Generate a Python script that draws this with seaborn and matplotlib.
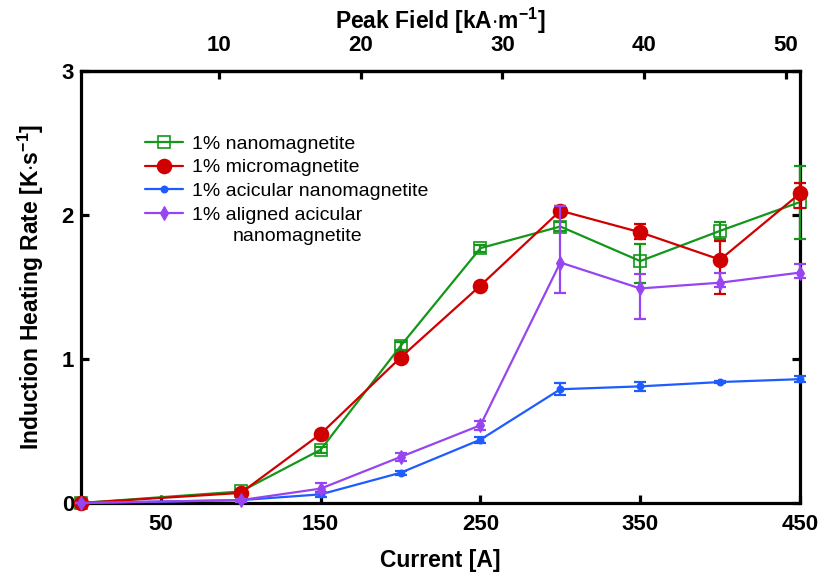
import matplotlib
matplotlib.use("Agg")
import matplotlib.pyplot as plt
import numpy as np
import pandas as pd
import seaborn as sns
from matplotlib.lines import Line2D

# Coil current [A] and measured heating rates [K/s]
current = [0, 100, 150, 200, 250, 300, 350, 400, 450]

nano = [0.0, 0.08, 0.37, 1.09, 1.77, 1.92, 1.68, 1.89, 2.09]
nano_lo = [0.0, 0.01, 0.02, 0.03, 0.025, 0.03, 0.15, 0.06, 0.26]
nano_hi = [0.0, 0.01, 0.02, 0.03, 0.025, 0.03, 0.12, 0.06, 0.25]

micro = [0.0, 0.07, 0.48, 1.01, 1.51, 2.03, 1.88, 1.69, 2.15]
micro_lo = [0.0, 0.01, 0.02, 0.02, 0.02, 0.03, 0.05, 0.24, 0.10]
micro_hi = [0.0, 0.01, 0.02, 0.02, 0.02, 0.03, 0.06, 0.13, 0.07]

acic = [0.0, 0.02, 0.06, 0.21, 0.44, 0.79, 0.81, 0.84, 0.86]
acic_lo = [0.0, 0.005, 0.015, 0.015, 0.02, 0.04, 0.03, 0.01, 0.02]
acic_hi = [0.0, 0.005, 0.015, 0.015, 0.02, 0.04, 0.03, 0.01, 0.02]

aligned = [0.0, 0.02, 0.10, 0.32, 0.54, 1.67, 1.49, 1.53, 1.60]
aligned_lo = [0.0, 0.01, 0.03, 0.03, 0.03, 0.21, 0.21, 0.03, 0.035]
aligned_hi = [0.0, 0.01, 0.04, 0.03, 0.03, 0.39, 0.10, 0.07, 0.06]

labels = ["1% nanomagnetite", "1% micromagnetite",
          "1% acicular nanomagnetite", "1% aligned acicular"]
label_cont = "nanomagnetite"

# Peak field [kA/m] as a linear function of coil current
FIELD_PER_AMP = 0.11274
FIELD_OFFSET = 0.26

sns.set_theme(style="ticks")
plt.rcParams["font.family"] = ["Liberation Sans", "DejaVu Sans"]
plt.rcParams["mathtext.fontset"] = "custom"
plt.rcParams["mathtext.rm"] = "Liberation Sans:bold"
plt.rcParams["mathtext.bf"] = "Liberation Sans:bold"
plt.rcParams["mathtext.default"] = "rm"
for key in ["text.color", "axes.labelcolor", "xtick.color", "ytick.color",
            "axes.edgecolor", "xtick.labelcolor", "ytick.labelcolor"]:
    plt.rcParams[key] = "black"

fig = plt.figure(figsize=(8.18, 5.79), dpi=100)
ax = fig.add_axes([81 / 818, 76 / 579, 719 / 818, 432 / 579])

series = [
    (nano, nano_lo, nano_hi, "#14961a", "s", 9, "none"),
    (micro, micro_lo, micro_hi, "#d10000", "o", 10, None),
    (acic, acic_lo, acic_hi, "#1f5cff", "o", 4.5, None),
    (aligned, aligned_lo, aligned_hi, "#9645f0", "d", 7, None),
]

frames = []
for lab, (vals, *_rest) in zip(labels, series):
    frames.append(pd.DataFrame({"current": current, "rate": vals, "sample": lab}))
df = pd.concat(frames, ignore_index=True)

handles = []
for i, (lab, (vals, lo, hi, col, mk, ms, mfc)) in enumerate(zip(labels, series)):
    sub = df[df["sample"] == lab]
    sns.lineplot(data=sub, x="current", y="rate", ax=ax, color=col, lw=1.6,
                 zorder=3 + i, legend=False, clip_on=False)
    ax.errorbar(current, vals, yerr=[lo, hi], fmt="none", ecolor=col,
                elinewidth=1.6, capsize=4.5, capthick=1.6, zorder=3 + i,
                clip_on=False)
    face = "none" if mfc == "none" else col
    mew = 1.2 if mk != "d" else 0.8
    ax.plot(current, vals, ls="none", marker=mk, ms=ms, mfc=face, mec=col,
            mew=mew, zorder=3.5 + i, clip_on=False)
    handles.append(Line2D([0], [0], color=col, lw=1.6, marker=mk, ms=ms,
                          mfc=face, mec=col, mew=mew))

ax.set_xlim(0, 450)
ax.set_ylim(0, 3)
ax.set_xticks([50, 150, 250, 350, 450])
ax.set_yticks([0, 1, 2, 3])
ax.set_xlabel("Current [A]", fontsize=16.5, fontweight="bold", labelpad=10)
ax.set_ylabel(r"Induction Heating Rate [K$\cdot$s$^{-1}$]", fontsize=16.5,
              fontweight="bold", labelpad=11)

for s in ax.spines.values():
    s.set_linewidth(2.3)
    s.set_color("black")
ax.tick_params(axis="both", direction="in", length=6, width=2.3,
               labelsize=16, colors="black")
ax.tick_params(axis="x", pad=8, top=False)
ax.tick_params(axis="y", pad=5, right=True)
for t in ax.get_xticklabels() + ax.get_yticklabels():
    t.set_fontweight("bold")

top = ax.secondary_xaxis(
    "top",
    functions=(lambda a: a * FIELD_PER_AMP + FIELD_OFFSET,
               lambda f: (f - FIELD_OFFSET) / FIELD_PER_AMP))
top.set_xticks([10, 20, 30, 40, 50])
top.tick_params(direction="in", length=6, width=2.3, labelsize=16, pad=11,
                colors="black")
top.spines["top"].set_linewidth(2.3)
for t in top.get_xticklabels():
    t.set_fontweight("bold")
top.set_xlabel(r"Peak Field [kA$\cdot$m$^{-1}$]", fontsize=16.5,
               fontweight="bold", labelpad=4)

leg = ax.legend(handles, labels, loc="upper left", frameon=False,
                bbox_to_anchor=(145 / 818, 1 - 135 / 579),
                bbox_transform=fig.transFigure, fontsize=14,
                handlelength=1.95, handletextpad=0.45, labelspacing=0.32,
                borderaxespad=0, borderpad=0)

# second line of the last legend entry, right-aligned under the first line
fig.canvas.draw()
bb = leg.get_texts()[-1].get_window_extent()
W, H = fig.get_size_inches() * fig.dpi
fig.text(bb.x1 / W, (bb.y0 - 4) / H, label_cont, ha="right", va="top",
         fontsize=14)

fig.savefig("out.png", dpi=100)
